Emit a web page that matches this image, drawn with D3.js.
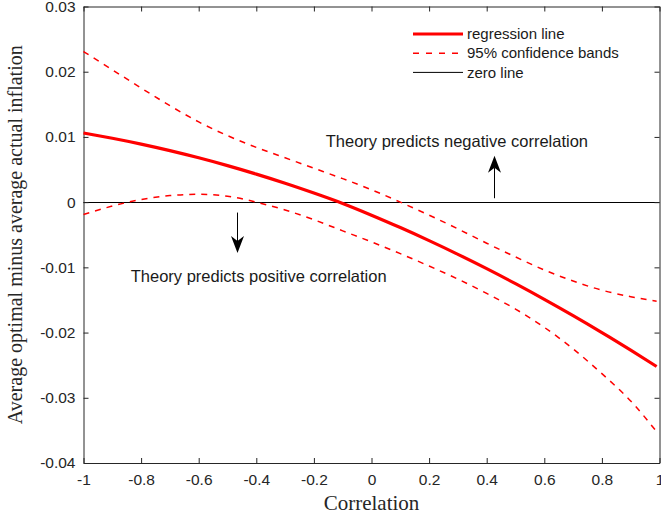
<!DOCTYPE html>
<html>
<head>
<meta charset="utf-8">
<script src="https://cdn.jsdelivr.net/npm/d3@7"></script>
<style>
  body { margin: 0; background: #fff; }
  svg { display: block; }
</style>
</head>
<body>
<svg></svg>
<script>
const width = 661;
const height = 517;

// data
const corr = [-1, -0.9, -0.8, -0.7, -0.6, -0.5, -0.4, -0.3, -0.2, -0.1, 0, 0.1, 0.2, 0.3, 0.4, 0.5, 0.6, 0.7, 0.8, 0.9, 0.99];
const regression = [0.0106, 0.0098, 0.0089, 0.0079, 0.0068, 0.0056, 0.0043, 0.0029, 0.0014, -0.0002, -0.0020, -0.0039, -0.0059, -0.0080, -0.0102, -0.0125, -0.0149, -0.0174, -0.0200, -0.0227, -0.0252];
const upperBand = [0.0231, 0.0203, 0.0175, 0.0148, 0.0123, 0.0102, 0.0084, 0.0068, 0.0052, 0.0036, 0.0019, 0.0000, -0.0020, -0.0041, -0.0063, -0.0084, -0.0104, -0.0121, -0.0135, -0.0145, -0.0152];
const lowerBand = [-0.0019, -0.0006, 0.0004, 0.0010, 0.0012, 0.0009, 0.0000, -0.0012, -0.0027, -0.0044, -0.0061, -0.0079, -0.0098, -0.0118, -0.0140, -0.0164, -0.0192, -0.0225, -0.0263, -0.0305, -0.0352];
const xTicks = [-1, -0.8, -0.6, -0.4, -0.2, 0, 0.2, 0.4, 0.6, 0.8, 1];
const yTicks = [-0.04, -0.03, -0.02, -0.01, 0, 0.01, 0.02, 0.03];
const legendLabels = ["regression line", "95% confidence bands", "zero line"];
const notes = [
  {text: "Theory predicts negative correlation", x: -0.159, y: 0.0084, ax: 0.425, from: 0.0006, to: 0.0071},
  {text: "Theory predicts positive correlation", x: -0.836, y: -0.0122, ax: -0.466, from: -0.0016, to: -0.0078}
];

const plotLeft = 83.5, plotTop = 6.5, plotRight = 659.5, plotBottom = 463;
const axisColor = "#262626";
const tickFont = "Liberation Sans, Arial, sans-serif";
const labelFont = "Liberation Serif, Times New Roman, serif";

let svg = d3.select("svg")
    .attr("width", width)
    .attr("height", height);

let x = d3.scaleLinear().domain([-1, 1]).range([plotLeft, plotRight]);
let y = d3.scaleLinear().domain([-0.04, 0.03]).range([plotBottom, plotTop]);
let fmt = d => String(+d.toFixed(2));

// zero line
svg.append("line")
    .attr("x1", plotLeft).attr("x2", plotRight)
    .attr("y1", Math.round(y(0)) + 0.5).attr("y2", Math.round(y(0)) + 0.5)
    .attr("stroke", "#000").attr("stroke-width", 1);

// axes
function styleAxis(g) {
    g.select(".domain").attr("stroke", axisColor);
    g.selectAll(".tick line").attr("stroke", axisColor);
    g.selectAll(".tick text")
        .attr("fill", axisColor)
        .style("font-family", tickFont)
        .style("font-size", "15.5px");
}

svg.append("g")
    .attr("transform", `translate(0,${plotBottom})`)
    .call(d3.axisBottom(x).tickValues(xTicks).tickFormat(fmt).tickSizeInner(-5).tickSizeOuter(0).tickPadding(11))
    .call(styleAxis);
svg.append("g")
    .attr("transform", `translate(0,${plotTop})`)
    .call(d3.axisTop(x).tickValues(xTicks).tickFormat("").tickSizeInner(-5).tickSizeOuter(0))
    .call(styleAxis);
svg.append("g")
    .attr("transform", `translate(${plotLeft},0)`)
    .call(d3.axisLeft(y).tickValues(yTicks).tickFormat(fmt).tickSizeInner(-5).tickSizeOuter(0).tickPadding(8))
    .call(styleAxis);
svg.append("g")
    .attr("transform", `translate(${plotRight},0)`)
    .call(d3.axisRight(y).tickValues(yTicks).tickFormat("").tickSizeInner(-5).tickSizeOuter(0))
    .call(styleAxis);

// curves
let line = d3.line()
    .x((d, i) => x(corr[i]))
    .y(d => y(d))
    .curve(d3.curveNatural);

svg.append("path")
    .attr("d", line(upperBand))
    .attr("fill", "none").attr("stroke", "#ff0000")
    .attr("stroke-width", 1.5).attr("stroke-dasharray", "6,6");
svg.append("path")
    .attr("d", line(lowerBand))
    .attr("fill", "none").attr("stroke", "#ff0000")
    .attr("stroke-width", 1.5).attr("stroke-dasharray", "6,6");
svg.append("path")
    .attr("d", line(regression))
    .attr("fill", "none").attr("stroke", "#ff0000")
    .attr("stroke-width", 3.2);

// arrows and notes
notes.forEach(n => {
    let ax = Math.round(x(n.ax)) + 0.5;
    let y0 = y(n.from), y1 = y(n.to);
    let dir = y1 < y0 ? 1 : -1;      // 1: head points up
    let len = 17, half = 6.5, notch = 12;
    svg.append("line")
        .attr("x1", ax).attr("x2", ax)
        .attr("y1", y0).attr("y2", y1 + dir * notch)
        .attr("stroke", "#000").attr("stroke-width", 1);
    svg.append("path")
        .attr("d", `M${ax},${y1} L${ax - half},${y1 + dir * len} L${ax},${y1 + dir * notch} L${ax + half},${y1 + dir * len} Z`)
        .attr("fill", "#000");
    svg.append("text")
        .attr("x", x(n.x)).attr("y", y(n.y))
        .style("font-family", tickFont).style("font-size", "16.5px")
        .attr("fill", "#1a1a1a")
        .text(n.text);
});

// legend
let legend = svg.append("g");
let rows = [
    {w: 3.2, dash: null, color: "#ff0000"},
    {w: 1.5, dash: "6,7", color: "#ff0000"},
    {w: 1, dash: null, color: "#000"}
];
legendLabels.forEach((lab, i) => {
    let ly = 34 + i * 19.2;
    legend.append("line")
        .attr("x1", 413).attr("x2", 463)
        .attr("y1", ly).attr("y2", ly)
        .attr("stroke", rows[i].color)
        .attr("stroke-width", rows[i].w)
        .attr("stroke-dasharray", rows[i].dash);
    legend.append("text")
        .attr("x", 467).attr("y", ly)
        .attr("dy", "0.35em")
        .style("font-family", tickFont).style("font-size", "15px")
        .attr("fill", "#1a1a1a")
        .text(lab);
});

// axis labels
svg.append("text")
    .attr("x", (plotLeft + plotRight) / 2).attr("y", 510)
    .attr("text-anchor", "middle")
    .style("font-family", labelFont).style("font-size", "21px")
    .attr("fill", axisColor)
    .text("Correlation");
svg.append("text")
    .attr("transform", `translate(22,${(plotTop + plotBottom) / 2}) rotate(-90)`)
    .attr("text-anchor", "middle")
    .style("font-family", labelFont).style("font-size", "20px")
    .attr("fill", axisColor)
    .text("Average optimal minus average actual inflation");
</script>
</body>
</html>
